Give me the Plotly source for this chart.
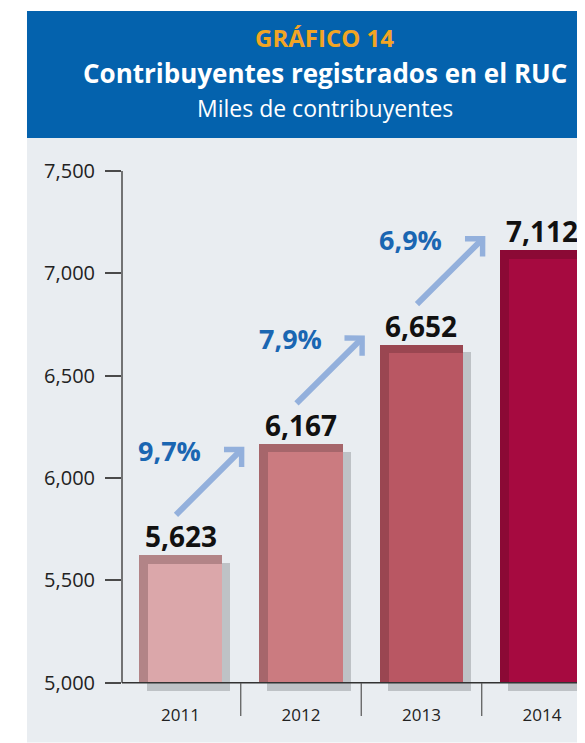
import plotly.graph_objects as go

# ---- data ----
years = ["2011", "2012", "2013", "2014"]
contribuyentes = [5623, 6167, 6652, 7112]
growth_labels = ["9,7%", "7,9%", "6,9%"]
fill_colors = ["#dba7aa", "#cb7b80", "#b95763", "#a60a40"]
edge_colors = ["#b28487", "#a6666b", "#9a4651", "#8b0935"]

# ---- style constants (in axis units) ----
BAR_W = 0.69
SHADOW_DX = 0.066
SHADOW_DY = 38
BAND_X = 0.072
BAND_Y = 42
Y_MIN, Y_MAX = 4950, 7500
X_RANGE = [-0.4855, 3.357]

xs = list(range(len(years)))
FONT = "Open Sans"

fig = go.Figure()

# shadow
fig.add_trace(go.Bar(
    x=xs, y=[v - 5000 for v in contribuyentes],
    base=[5000 - SHADOW_DY] * len(xs),
    width=BAR_W, offset=-BAR_W / 2 + SHADOW_DX,
    marker=dict(color="#bec2c6", line=dict(width=0)),
    hoverinfo="skip", showlegend=False,
))
# darker edge bar
fig.add_trace(go.Bar(
    x=xs, y=[v - 5000 for v in contribuyentes], base=[5000] * len(xs),
    width=BAR_W, offset=-BAR_W / 2,
    marker=dict(color=edge_colors, line=dict(width=0)),
    hoverinfo="skip", showlegend=False,
))
# inner lighter fill
fig.add_trace(go.Bar(
    x=xs, y=[v - BAND_Y - 5000 for v in contribuyentes], base=[5000] * len(xs),
    width=BAR_W - BAND_X, offset=-BAR_W / 2 + BAND_X,
    marker=dict(color=fill_colors, line=dict(width=0)),
    showlegend=False,
))

annotations = []
# value labels
for x, v in zip(xs, contribuyentes):
    annotations.append(dict(
        x=x, y=v, xref="x", yref="y", text=f"<b>{v:,}</b>", showarrow=False,
        yanchor="bottom", yshift=-2, font=dict(family=FONT, size=28, color="#111111"),
    ))
# growth arrows + labels
for i, g in enumerate(growth_labels):
    tx, ty = xs[i] - 0.05, contribuyentes[i] + 190
    hx, hy = tx + 0.58, ty + 340
    annotations.append(dict(
        x=hx, y=hy, ax=tx, ay=ty, xref="x", yref="y", axref="x", ayref="y",
        text="", showarrow=True, arrowhead=4, arrowsize=0.8, arrowwidth=6,
        arrowcolor="#93b0dc", standoff=0, startstandoff=0,
    ))
    annotations.append(dict(
        x=tx - 0.04, y=ty, xref="x", yref="y", text=f"<b>{g}</b>", showarrow=False,
        yshift=66, font=dict(family=FONT, size=27, color="#1a66b2"),
    ))

# header texts
annotations += [
    dict(x=0.4384, y=1.2548, xref="paper", yref="paper", text="<b>GRÁFICO 14</b>",
         yanchor="middle", showarrow=False, font=dict(family=FONT, size=24, color="#f2a524")),
    dict(x=0.4384, y=1.1877, xref="paper", yref="paper",
         text="<b>Contribuyentes registrados en el RUC</b>", yanchor="middle",
         showarrow=False, font=dict(family=FONT, size=26, color="white")),
    dict(x=0.4384, y=1.1207, xref="paper", yref="paper", text="Miles de contribuyentes",
         yanchor="middle", showarrow=False, font=dict(family=FONT, size=23, color="white")),
]

shapes = [
    # grey panel
    dict(type="rect", xref="paper", yref="paper", x0=-0.2052, x1=1.0, y0=-0.095, y1=1.0632,
         fillcolor="#e9edf1", line=dict(width=0), layer="below"),
    # blue header
    dict(type="rect", xref="paper", yref="paper", x0=-0.2052, x1=1.0, y0=1.0632, y1=1.3065,
         fillcolor="#0462ad", line=dict(width=0), layer="below"),
    # y axis line
    dict(type="line", xref="paper", yref="y", x0=0, x1=0, y0=5000, y1=Y_MAX,
         line=dict(color="#4a4a4a", width=1.5)),
    # baseline
    dict(type="line", xref="paper", yref="y", x0=0, x1=1, y0=5000, y1=5000,
         line=dict(color="#333333", width=1.5)),
]
# category separators
for i in range(len(years) - 1):
    shapes.append(dict(type="line", xref="x", yref="paper", x0=xs[i] + 0.5, x1=xs[i] + 0.5,
                       y0=0.019, y1=-0.044, line=dict(color="#555555", width=1.2)))

# page body has an 8px margin, so the figure is 8px smaller than the window
fig.update_layout(
    width=577, height=735,
    margin=dict(l=114, r=0, t=163, b=50, pad=0),
    paper_bgcolor="white", plot_bgcolor="rgba(0,0,0,0)",
    barmode="overlay", bargap=0,
    showlegend=False,
    annotations=annotations, shapes=shapes,
    font=dict(family=FONT),
    xaxis=dict(range=X_RANGE, tickvals=xs, ticktext=years, showgrid=False, zeroline=False,
               showline=False, ticks="", ticklabelstandoff=10,
               tickfont=dict(family=FONT, size=17, color="#222222"), fixedrange=True),
    yaxis=dict(range=[Y_MIN, Y_MAX], tickvals=[5000, 5500, 6000, 6500, 7000, 7500],
               tickformat=",", showgrid=False, zeroline=False, showline=False,
               ticks="outside", ticklen=16, tickwidth=1.5, tickcolor="#4a4a4a",
               ticklabelstandoff=6,
               tickfont=dict(family=FONT, size=20, color="#222222"), fixedrange=True),
)

fig.write_html("out.html")
